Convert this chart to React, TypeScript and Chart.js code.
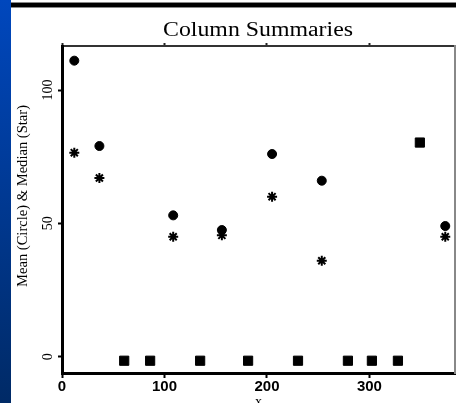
import React, { useEffect, useRef } from "react";
import { Chart, registerables } from "chart.js";

Chart.register(...registerables);

// Column positions (x) and summary values
const circleX = [12, 36.5, 108.5, 156, 205, 253.5, 374];
const circleMeans = [111, 79, 53, 47.5, 76, 66, 49];
const starMedians = [76.5, 67, 45, 45.5, 60, 36, 45];
const squareX = [60.7, 86, 134.8, 181.6, 230.3, 279, 302.4, 327.8, 349.2];
const squareValues = [-1.5, -1.5, -1.5, -1.5, -1.5, -1.5, -1.5, -1.5, 80.3];

const xTicks = [0, 100, 200, 300];
const yTicks = [0, 50, 100];

const titleText = "Column Summaries";
const yTitleText = "Mean (Circle) & Median (Star)";
const xTitleText = "x";

const decorPlugin = {
  id: "decor",
  beforeDraw(chart: any) {
    const ctx = chart.ctx;
    ctx.save();
    ctx.fillStyle = "#ffffff";
    ctx.fillRect(0, 0, chart.width, chart.height);
    const g = ctx.createLinearGradient(0, 0, 0, chart.height);
    g.addColorStop(0, "#0047bd");
    g.addColorStop(1, "#002a66");
    ctx.fillStyle = g;
    ctx.fillRect(0, 0, 11, chart.height);
    ctx.fillStyle = "#888888";
    ctx.fillRect(11, 2, chart.width - 11, 6);
    ctx.fillStyle = "#000000";
    ctx.fillRect(11, 3, chart.width - 11, 4);
    ctx.restore();
  },
  afterDraw(chart: any) {
    const ctx = chart.ctx;
    const ys = chart.scales.y;
    const area = chart.chartArea;
    ctx.save();
    ctx.fillStyle = "#000";
    // title
    ctx.font = "20px 'Liberation Serif'";
    ctx.textAlign = "center";
    ctx.textBaseline = "middle";
    const tw = ctx.measureText(titleText).width;
    ctx.save();
    ctx.translate(258, 31);
    ctx.scale(190 / tw, 1);
    ctx.fillText(titleText, 0, 0);
    ctx.restore();
    // y tick labels (rotated)
    ctx.font = "14px 'Liberation Serif'";
    yTicks.forEach((v) => {
      const py = ys.getPixelForValue(v);
      ctx.save();
      ctx.translate(48, py);
      ctx.rotate(-Math.PI / 2);
      ctx.fillText(String(v), 0, 0);
      ctx.restore();
    });
    // y title
    ctx.font = "14px 'Liberation Serif'";
    const yw = ctx.measureText(yTitleText).width;
    ctx.save();
    ctx.translate(23, 196);
    ctx.rotate(-Math.PI / 2);
    ctx.scale(182 / yw, 1);
    ctx.fillText(yTitleText, 0, 0);
    ctx.restore();
    // x title
    ctx.font = "14px 'Liberation Serif'";
    ctx.fillText(xTitleText, (area.left + area.right) / 2, 402);
    ctx.restore();
  },
};

export default function App() {
  const ref = useRef<HTMLCanvasElement>(null);
  useEffect(() => {
    if (!ref.current) return;
    const chart = new Chart(ref.current, {
      type: "scatter",
      data: {
        datasets: [
          {
            label: "Mean",
            data: circleX.map((x, i) => ({ x, y: circleMeans[i] })),
            pointStyle: "circle",
            pointRadius: 4.5,
            backgroundColor: "#000",
            borderColor: "#000",
            borderWidth: 1,
          },
          {
            label: "Median",
            data: circleX.map((x, i) => ({ x, y: starMedians[i] })),
            pointStyle: "star",
            pointRadius: 5,
            backgroundColor: "#000",
            borderColor: "#000",
            borderWidth: 2,
          },
          {
            label: "Other",
            data: squareX.map((x, i) => ({ x, y: squareValues[i] })),
            pointStyle: "rect",
            pointRadius: 6.5,
            backgroundColor: "#000",
            borderColor: "#000",
            borderWidth: 1,
          },
        ],
      },
      options: {
        responsive: false,
        animation: false,
        events: [],
        layout: { padding: 0, autoPadding: false },
        plugins: {
          legend: { display: false },
          title: { display: false },
          tooltip: { enabled: false },
        },
        scales: {
          x: {
            type: "linear",
            position: "bottom",
            min: 0,
            max: 383.5,
            afterBuildTicks: (s: any) => {
              s.ticks = xTicks.map((v) => ({ value: v }));
            },
            afterFit: (s: any) => {
              s.height = 30;
            },
            ticks: {
              color: "#000",
              padding: 0,
              font: { family: "'Liberation Sans'", size: 15, weight: "bold" },
              maxRotation: 0,
            },
            grid: {
              display: true,
              drawOnChartArea: false,
              drawTicks: true,
              tickLength: 5,
              tickColor: "#000",
              tickWidth: 2,
            },
            border: { display: true, color: "#000", width: 3 },
          },
          x2: {
            type: "linear",
            position: "top",
            min: 0,
            max: 383.5,
            afterBuildTicks: (s: any) => {
              s.ticks = xTicks.map((v) => ({ value: v }));
            },
            afterFit: (s: any) => {
              s.height = 46;
            },
            ticks: { display: false },
            grid: {
              display: true,
              drawOnChartArea: false,
              drawTicks: true,
              tickLength: 3,
              tickColor: "#222",
              tickWidth: 2,
            },
            border: { display: true, color: "#333", width: 2 },
          },
          y: {
            type: "linear",
            position: "left",
            min: -6.1,
            max: 116.5,
            afterBuildTicks: (s: any) => {
              s.ticks = yTicks.map((v) => ({ value: v }));
            },
            afterFit: (s: any) => {
              s.width = 62;
            },
            ticks: { display: false },
            grid: {
              display: true,
              drawOnChartArea: false,
              drawTicks: true,
              tickLength: 4,
              tickColor: "#000",
              tickWidth: 2,
            },
            border: { display: true, color: "#000", width: 3 },
          },
          y2: {
            type: "linear",
            position: "right",
            min: -6.1,
            max: 116.5,
            afterFit: (s: any) => {
              s.width = 1;
            },
            ticks: { display: false },
            grid: { display: false },
            border: { display: true, color: "#888", width: 2 },
          },
        },
      },
      plugins: [decorPlugin],
    });
    return () => chart.destroy();
  }, []);
  return (
    <div style={{ position: "absolute", left: 0, top: 0, width: 456, height: 403 }}>
      <canvas ref={ref} width={456} height={403} style={{ display: "block" }} />
    </div>
  );
}
